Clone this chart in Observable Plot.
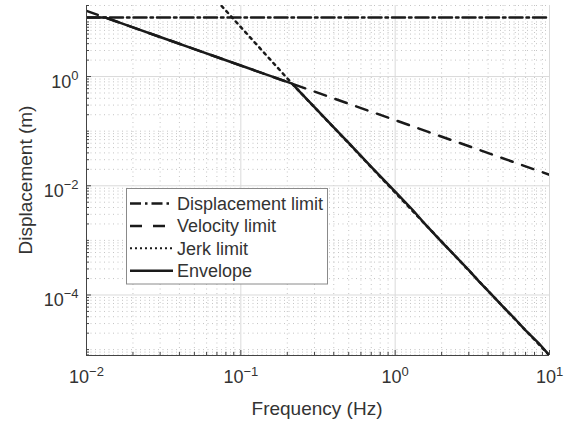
<!DOCTYPE html>
<html><head><meta charset="utf-8">
<script src="https://cdn.jsdelivr.net/npm/d3@7"></script>
<script src="https://cdn.jsdelivr.net/npm/@observablehq/plot@0.6"></script>
<style>
html,body{margin:0;padding:0;background:#fff;}
#chart{width:569px;height:423px;}
svg{font-family:"Liberation Sans",Arial,Helvetica,sans-serif;}
</style></head><body><div id="chart"></div>
<script>
// ---- data ----
const dispFreq = [0.01, 10];
const dispLimit = [12, 12];
const velFreq = [0.01, 10];
const velLimit = [15.9, 0.0159];
const jerkFreq = [0.07, 0.215, 0.3, 0.5, 1, 2, 5, 10];
const jerkLimit = [24.4, 0.74, 0.273, 0.06, 0.0075, 0.00095, 6.1e-5, 7.8e-6];
const envFreq = [0.01, 0.0133, 0.02, 0.03, 0.05, 0.08, 0.1, 0.15, 0.215, 0.25, 0.3, 0.4, 0.5, 0.7, 1, 1.3, 1.5, 2, 2.5, 3, 3.5, 4, 5, 6, 7, 8.5, 10];
const envDisp = [12, 12, 7.96, 5.3, 3.18, 1.99, 1.59, 1.06, 0.74, 0.47, 0.275, 0.117, 0.061, 0.0222, 0.0078, 0.0036, 0.00226, 0.00094, 0.00049, 0.000285, 0.000176, 0.000119, 6.1e-5, 3.6e-5, 2.25e-5, 1.32e-5, 7.8e-6];

const seriesNames = ["Displacement limit", "Velocity limit", "Jerk limit", "Envelope"];
const xMajorTicks = [0.01, 0.1, 1, 10];
const xTickExp = ["\u22122", "\u22121", "0", "1"];
const yMajorTicks = [1e-4, 1e-2, 1];
const yTickExp = ["\u22124", "\u22122", "0"];
const xDomain = [0.01, 10];
const yDomain = [7.8e-6, 20];

// ---- styles ----
const ink = "#1a1a1a";
const lw = 2.5;
const dashes = ["13,4,2.5,4", "12,10", "2.5,4.5", null];
const textColor = "#333333";

function minorTicks(lo, hi, majors, kStart) {
  const out = [];
  for (let e = Math.floor(Math.log10(lo)) - 1; e <= Math.ceil(Math.log10(hi)); e++) {
    for (let k = kStart; k <= 9; k++) {
      const v = +(k * Math.pow(10, e)).toPrecision(6);
      if (v >= lo * 0.9999 && v <= hi * 1.0001 && !majors.some(m => Math.abs(m - v) / m < 1e-6)) out.push(v);
    }
  }
  return out;
}
const xMinor = minorTicks(xDomain[0], xDomain[1], xMajorTicks, 2);
const yMinor = minorTicks(yDomain[0], yDomain[1], yMajorTicks, 1);

const pts = (fs, vs) => fs.map((f, i) => ({f, v: vs[i]}));
const dispData = pts(dispFreq, dispLimit);
const velData = pts(velFreq, velLimit);
const jerkData = pts(jerkFreq, jerkLimit);
const envData = pts(envFreq, envDisp);

const xLab = new Map(xMajorTicks.map((t, i) => [t, xTickExp[i]]));
const yLab = new Map(yMajorTicks.map((t, i) => [t, yTickExp[i]]));

const svg = Plot.plot({
  width: 569, height: 423,
  marginLeft: 86, marginRight: 20, marginTop: 5, marginBottom: 68,
  style: {fontFamily: '"Liberation Sans",Arial,Helvetica,sans-serif', fontSize: "18px", color: textColor, background: "#fff"},
  x: {type: "log", domain: xDomain},
  y: {type: "log", domain: yDomain},
  marks: [
    Plot.ruleX(xMinor, {stroke: "#c4c4c4", strokeDasharray: "1,3.5"}),
    Plot.ruleY(yMinor, {stroke: "#c4c4c4", strokeDasharray: "1,3.5"}),
    Plot.ruleX(xMajorTicks, {stroke: "#dadada"}),
    Plot.ruleY(yMajorTicks, {stroke: "#dadada"}),
    Plot.line(dispData, {x: "f", y: "v", stroke: ink, strokeWidth: lw, strokeDasharray: dashes[0], clip: true}),
    Plot.line(velData, {x: "f", y: "v", stroke: ink, strokeWidth: lw, strokeDasharray: dashes[1], clip: true}),
    Plot.line(jerkData, {x: "f", y: "v", stroke: ink, strokeWidth: lw, strokeDasharray: dashes[2], clip: true}),
    Plot.line(envData, {x: "f", y: "v", stroke: ink, strokeWidth: lw, clip: true}),
    Plot.ruleX([xDomain[0]], {stroke: "#444"}),
    Plot.ruleY([yDomain[0]], {stroke: "#444"}),
    Plot.axisX(xMajorTicks, {tickSize: -5, tickFormat: () => "", stroke: "#444", label: null}),
    Plot.axisX(xMinor, {tickSize: -3, tickFormat: () => "", stroke: "#444", label: null}),
    Plot.axisY(yMajorTicks, {tickSize: -5, tickFormat: () => "", stroke: "#444", label: null}),
    Plot.axisY(yMinor, {tickSize: -3, tickFormat: () => "", stroke: "#444", label: null}),
    Plot.axisX(xMajorTicks, {tickSize: 0, tickPadding: 14, tickFormat: d => "10|" + xLab.get(d), fill: textColor, fontSize: 18, label: null}),
    Plot.axisY(yMajorTicks, {tickSize: 0, tickPadding: 8, tickFormat: d => "10|" + yLab.get(d), fill: textColor, fontSize: 18, label: null})
  ]
});

const s = d3.select(svg);
s.selectAll('g[aria-label="x-axis tick label"] text').each(function () {
  const parts = this.textContent.split("|");
  if (parts.length < 2) return;
  const t = d3.select(this);
  t.text(parts[0]).attr("y", 13);
  t.append("tspan").attr("dy", -7).attr("font-size", "13px").text(parts[1]);
});
s.selectAll('g[aria-label="y-axis tick label"] text').each(function () {
  const parts = this.textContent.split("|");
  if (parts.length < 2) return;
  const t = d3.select(this);
  t.text(parts[0]).attr("y", 11.5);
  t.append("tspan").attr("dy", -8).attr("font-size", "13px").text(parts[1]);
});

// axis titles
s.append("text").attr("x", 317).attr("y", 415).attr("text-anchor", "middle")
  .attr("font-size", 19).attr("fill", textColor).text("Frequency (Hz)");
s.append("text").attr("transform", "translate(32,180) rotate(-90)").attr("text-anchor", "middle")
  .attr("font-size", 19).attr("fill", textColor).text("Displacement (m)");

// legend
const lg = s.append("g");
lg.append("rect").attr("x", 126.5).attr("y", 188.5).attr("width", 201).attr("height", 95.5)
  .attr("fill", "#fff").attr("stroke", "#8a8a8a").attr("stroke-width", 1);
seriesNames.forEach((name, i) => {
  const y = 203.5 + i * 22.4;
  const ln = lg.append("line").attr("x1", 130).attr("x2", 173).attr("y1", y).attr("y2", y)
    .attr("stroke", ink).attr("stroke-width", i === 2 ? 2 : lw);
  if (dashes[i]) ln.attr("stroke-dasharray", i === 1 ? "12,11" : i === 0 ? "11,4,2.5,4" : "2,3");
  lg.append("text").attr("x", 177).attr("y", y).attr("dy", "0.35em").attr("font-size", 18)
    .attr("text-anchor", "start").attr("fill", textColor).text(name);
});

document.getElementById("chart").appendChild(svg);
</script>
</body></html>
